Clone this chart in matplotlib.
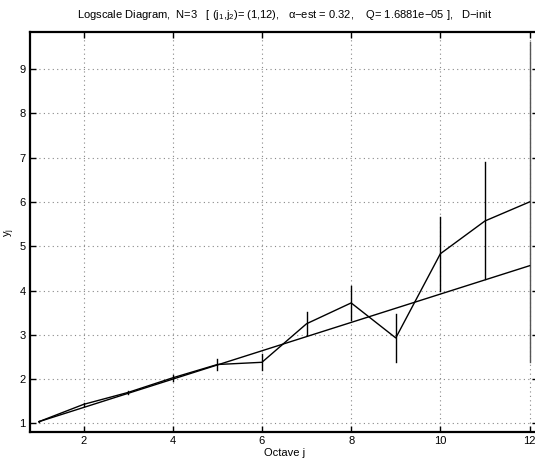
import matplotlib
matplotlib.use("Agg")
import matplotlib.pyplot as plt
import numpy as np

plt.rcParams['font.family'] = ['Liberation Sans', 'DejaVu Sans']
plt.rcParams['mathtext.fontset'] = 'custom'
plt.rcParams['mathtext.rm'] = 'Liberation Sans'
plt.rcParams['mathtext.it'] = 'Liberation Sans'

# octaves and the log-scale estimates with their confidence half-widths
octaves = [1, 2, 3, 4, 5, 6, 7, 8, 9, 10, 11, 12]
yj = [1.04, 1.43, 1.70, 2.03, 2.33, 2.38, 3.25, 3.72, 2.93, 4.83, 5.57, 6.00]
halfwidth = [0.01, 0.03, 0.04, 0.07, 0.12, 0.18, 0.26, 0.39, 0.55, 0.84, 1.32, 3.62]

# regression over (j1, j2)
j1, j2 = 1, 12
alpha_est = 0.32
intercept = 0.72

xticks = [2, 4, 6, 8, 10, 12]
yticks = [1, 2, 3, 4, 5, 6, 7, 8, 9]

fig = plt.figure(figsize=(5.35, 4.61), dpi=100)
# right edge of the box falls just outside the canvas
ax = fig.add_axes([30 / 535, 1 - 432.3 / 461, 508.5 / 535, 400.3 / 461])

# error bars (no caps), last one drawn a bit lighter
for j, y, h in zip(octaves, yj, halfwidth):
    col = '#555555' if j == 12 else 'black'
    ax.plot([j, j], [y - h, y + h], color=col, lw=1.0, zorder=3)

ax.plot(octaves, yj, color='black', lw=1.0, zorder=4)

fit_x = np.array([j1, j2])
ax.plot(fit_x, intercept + alpha_est * fit_x, color='black', lw=1.0, zorder=4)

ax.set_xlim(0.8, 12.2)
ax.set_ylim(0.8, 9.835)
ax.set_xticks(xticks)
ax.set_yticks(yticks)
ax.grid(True, linestyle=(0, (1, 3)), color='#888888', lw=0.8)
ax.tick_params(direction='in', length=4, width=1, labelsize=8,
               top=True, right=True, pad=3)
for s in ax.spines.values():
    s.set_linewidth(1.6)

ax.set_xlabel('Octave j', fontsize=8, labelpad=1)
ax.set_ylabel('y$_j$', fontsize=8)
ax.yaxis.set_label_coords(-13 / 508.5, 0.5)
ax.set_title('Logscale Diagram,  N=3   [ (j$_1$,j$_2$)= (1,12),   \u03b1\u2212est = 0.32,    '
             'Q= 1.6881e\u221205 ],   D\u2212init', fontsize=8, pad=10)

fig.savefig('out.png', dpi=100)
